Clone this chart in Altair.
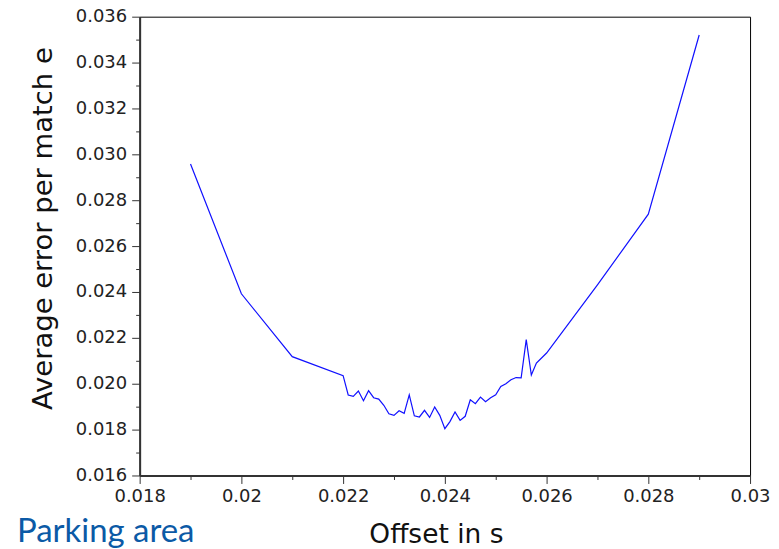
import altair as alt
import pandas as pd

offset_s = [0.019, 0.020, 0.021, 0.022,
            0.0221, 0.0222, 0.0223, 0.0224, 0.0225, 0.0226, 0.0227, 0.0228, 0.0229,
            0.0230, 0.0231, 0.0232, 0.0233, 0.0234, 0.0235, 0.0236, 0.0237, 0.0238, 0.0239,
            0.0240, 0.0241, 0.0242, 0.0243, 0.0244, 0.0245, 0.0246, 0.0247, 0.0248, 0.0249,
            0.0250, 0.0251, 0.0252, 0.0253, 0.0254, 0.0255, 0.0256, 0.0257, 0.0258,
            0.026, 0.027, 0.028, 0.029]
avg_error = [0.02958, 0.02392, 0.02118, 0.02035,
             0.01951, 0.01945, 0.01968, 0.01926, 0.01970, 0.01939, 0.01933, 0.01906, 0.01869,
             0.01862, 0.01882, 0.01871, 0.01951, 0.01860, 0.01855, 0.01884, 0.01853, 0.01899, 0.01862,
             0.01804, 0.01835, 0.01877, 0.01840, 0.01858, 0.01930, 0.01913, 0.01942, 0.01922, 0.01939,
             0.01952, 0.01988, 0.02000, 0.02017, 0.02027, 0.02026, 0.02192, 0.02038, 0.02090,
             0.02134, 0.02431, 0.02739, 0.03520]

x_ticks = [round(0.018 + 0.001 * i, 3) for i in range(13)]
y_ticks = [round(0.016 + 0.001 * i, 3) for i in range(21)]

df = pd.DataFrame({"offset": offset_s, "error": avg_error})

major_test = "abs(round(datum.value * 1000)) % 2 == 0"

x_axis = alt.Axis(
    title="Offset in s",
    values=x_ticks,
    labelExpr=f"{major_test} ? format(datum.value, '~g') : ''",
    labelFont="DejaVu Sans", labelFontSize=18, labelColor="#222222",
    labelPadding=4, labelFlush=False, labelOverlap=False,
    tickSize={"condition": {"test": major_test, "value": 8}, "value": 4},
    tickColor="#333333", tickWidth=1,
    domainColor="#333333", domainWidth=2,
    grid=False,
    titleFont="DejaVu Sans", titleFontSize=26.5, titleFontWeight="normal", titleColor="#111111",
    titleX=297, titleY=67, titleBaseline="alphabetic", titleAlign="center",
)
y_axis = alt.Axis(
    title="Average error per match e",
    values=y_ticks,
    labelExpr=f"{major_test} ? format(datum.value, '.3f') : ''",
    labelFont="DejaVu Sans", labelFontSize=18, labelColor="#222222",
    labelPadding=5, labelFlush=False, labelOverlap=False,
    tickSize={"condition": {"test": major_test, "value": 8}, "value": 4},
    tickColor="#333333", tickWidth=1,
    domainColor="#333333", domainWidth=2,
    grid=False,
    titleFont="DejaVu Sans", titleFontSize=27.5, titleFontWeight="normal", titleColor="#111111",
    titleX=-88, titleY=212, titleAngle=270, titleBaseline="alphabetic", titleAlign="center",
)

chart = alt.Chart(df).mark_line(color="#1010ff", strokeWidth=1.2).encode(
    x=alt.X("offset:Q", scale=alt.Scale(domain=[0.018, 0.03], nice=False, zero=False), axis=x_axis),
    y=alt.Y("error:Q", scale=alt.Scale(domain=[0.016, 0.036], nice=False, zero=False), axis=y_axis),
).properties(
    width=612, height=460,
    title=alt.TitleParams(
        "Parking area", orient="bottom", anchor="start", frame="group",
        font="Lato", fontSize=33, fontWeight="normal", color="#0b5aa6",
        baseline="alphabetic", offset=0, dx=-123, dy=-6,
    ),
    autosize=alt.AutoSizeParams(type="none"),
    padding={"left": 132, "top": 8, "right": 21, "bottom": 73},
).configure_view(stroke="black", strokeWidth=1)

chart.save("out.html", embed_options={"renderer": "svg", "actions": False})
